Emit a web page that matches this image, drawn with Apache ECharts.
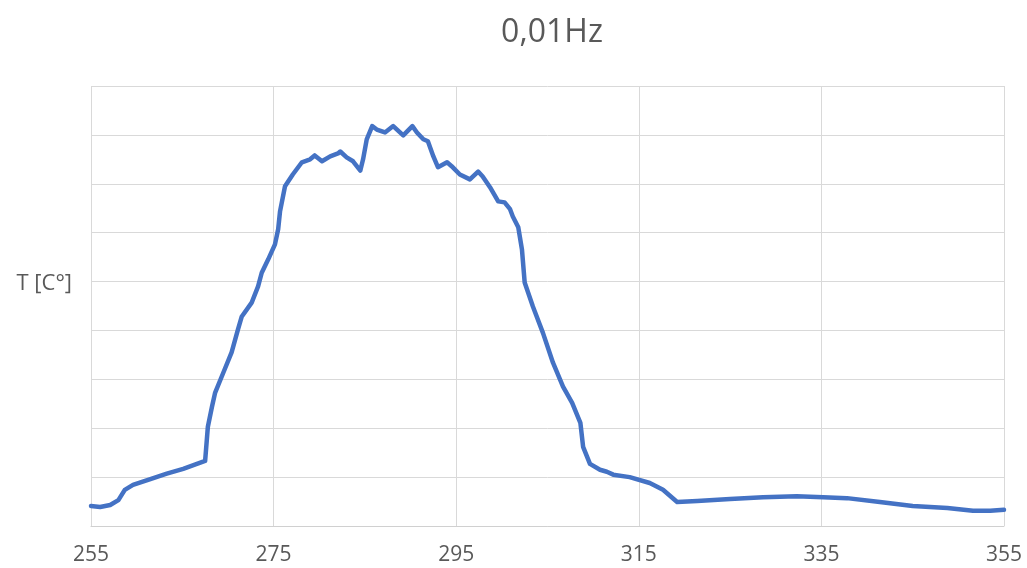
<!DOCTYPE html>
<html>
<head>
<meta charset="utf-8">
<script src="https://cdn.jsdelivr.net/npm/echarts@6/dist/echarts.min.js"></script>
<style>
html,body{margin:0;padding:0;background:#fff;}
#c{width:1027px;height:568px;}
</style>
</head>
<body>
<div id="c"></div>
<script>
const chartTitle = '0,01Hz';
const yName = 'T [C°]';
const xTicks = [255, 275, 295, 315, 335, 355];
const xValues = [
  255.0, 256.0, 257.1, 258.0, 258.7, 259.6, 261.5, 263.3, 265.1, 266.9, 267.5,
  267.8, 268.25, 268.6, 269.5, 270.4, 271.1, 271.5, 272.6, 273.3, 273.7, 274.4,
  275.15, 275.5, 275.7, 276.25, 277.1, 278.1, 279.0, 279.5, 280.3, 281.2, 282.05,
  282.3, 283.0, 283.7, 284.5, 284.8, 285.2, 285.8, 286.3, 287.2, 288.1, 289.2,
  290.2, 290.7, 291.4, 291.9, 292.5, 293.0, 294.0, 294.5, 295.4, 296.5, 297.4,
  297.9, 298.7, 299.6, 300.3, 300.9, 301.2, 301.8, 302.2, 302.5, 303.4, 304.5,
  305.6, 306.7, 307.7, 308.6, 308.9, 309.65, 310.75, 311.5, 312.2, 314.0, 316.2,
  317.65, 319.2, 321.4, 325.0, 328.6, 332.3, 335.2, 337.8, 341.4, 345.0, 348.8,
  351.6, 353.5, 355.0
];
const yValues = [
  0.41, 0.39, 0.43, 0.53, 0.74, 0.84, 0.96, 1.07, 1.17, 1.29, 1.33,
  2.03, 2.44, 2.73, 3.14, 3.55, 4.02, 4.28, 4.57, 4.90, 5.18, 5.45,
  5.76, 6.07, 6.43, 6.95, 7.19, 7.44, 7.50, 7.58, 7.46, 7.56, 7.62,
  7.66, 7.54, 7.46, 7.27, 7.50, 7.91, 8.18, 8.11, 8.05, 8.18, 7.99,
  8.18, 8.05, 7.91, 7.87, 7.56, 7.34, 7.44, 7.36, 7.19, 7.09, 7.25,
  7.15, 6.93, 6.64, 6.62, 6.48, 6.33, 6.11, 5.66, 4.98, 4.49, 3.95,
  3.34, 2.85, 2.52, 2.11, 1.62, 1.27, 1.15, 1.11, 1.05, 1.00, 0.88,
  0.74, 0.49, 0.51, 0.55, 0.59, 0.61, 0.59, 0.57, 0.49, 0.41, 0.37,
  0.31, 0.31, 0.33
];

const x0 = xTicks[0];
const xStep = xTicks[1] - xTicks[0];
const xSpan = xTicks[xTicks.length - 1] - x0;
const seriesData = xValues.map((x, i) => [x - x0, yValues[i]]);

const chart = echarts.init(document.getElementById('c'), null, {renderer: 'canvas'});
const gridColor = '#d9d9d9';
const textColor = '#595959';
const font = '"Open Sans", "Liberation Sans", sans-serif';

chart.setOption({
  animation: false,
  backgroundColor: '#ffffff',
  title: {
    text: chartTitle,
    left: 547,
    textAlign: 'center',
    top: 12,
    textStyle: {fontFamily: font, fontSize: 32, fontWeight: 'normal', color: textColor}
  },
  grid: {left: 91, right: 23, top: 86, bottom: 42, containLabel: false},
  xAxis: {
    type: 'value',
    min: 0,
    max: xSpan,
    interval: xStep,
    axisLine: {show: true, lineStyle: {color: '#d0d0d0', width: 1}},
    axisTick: {show: false},
    splitLine: {show: true, lineStyle: {color: gridColor, width: 1}},
    axisLabel: {
      margin: 19,
      color: textColor,
      fontFamily: font,
      fontSize: 21,
      formatter: v => String(v + x0)
    }
  },
  yAxis: {
    type: 'value',
    min: 0,
    max: 9,
    interval: 1,
    name: yName,
    nameLocation: 'middle',
    nameRotate: 0,
    nameGap: 19,
    nameTextStyle: {fontFamily: font, fontSize: 22, color: textColor, verticalAlign: 'bottom', lineHeight: 44},
    axisLine: {show: false},
    axisTick: {show: false},
    axisLabel: {show: false},
    splitLine: {show: true, lineStyle: {color: gridColor, width: 1}}
  },
  series: [{
    type: 'line',
    data: seriesData,
    showSymbol: false,
    smooth: false,
    lineStyle: {color: '#4472C4', width: 4.5, join: 'round', cap: 'round'},
    itemStyle: {color: '#4472C4'}
  }]
});
</script>
</body>
</html>
